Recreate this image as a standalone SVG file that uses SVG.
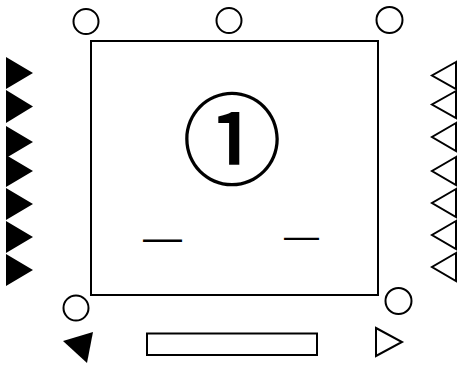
<svg xmlns="http://www.w3.org/2000/svg" width="459" height="368" viewBox="0 0 459 368">
<style>
.o{fill:#fff;stroke:#000;stroke-width:2}
.f{fill:#000;stroke:none}
.c{fill:#fff;stroke:#000;stroke-width:2}
.t{font-family:"Noto Sans CJK JP",sans-serif;font-weight:500;fill:#000}
.d{font-family:"Liberation Sans",Arial,sans-serif;fill:#000}
</style>
<rect width="459" height="368" fill="#fff"/>
<g id="box">
<rect class="o" x="91" y="41" width="287" height="254"/>
<text class="t" x="232" y="177" font-size="100" text-anchor="middle">①</text>
<text class="d" x="143" y="250.5" font-size="39">—</text>
<text class="d" x="284" y="248.2" font-size="35">—</text>
</g>
<g id="circles">
<circle class="c" cx="86" cy="21.5" r="12.5"/>
<circle class="c" cx="229" cy="20.5" r="12.5"/>
<circle class="c" cx="389.5" cy="20" r="13"/>
<circle class="c" cx="76" cy="308" r="12.5"/>
<circle class="c" cx="398.5" cy="301" r="13"/>
</g>
<g id="left-pins">
<polygon class="f" points="6,57 33,73 6,89"/>
<polygon class="f" points="6,90 33,106.5 6,123"/>
<polygon class="f" points="6,126 33,142 6,158"/>
<polygon class="f" points="6,155 33,171 6,187"/>
<polygon class="f" points="6,188 33,204 6,220"/>
<polygon class="f" points="6,221 33,237 6,253"/>
<polygon class="f" points="6,254 33,270 6,286"/>
</g>
<g id="right-pins">
<polygon class="o" points="456,62 432,75.5 456,89"/>
<polygon class="o" points="456,91 432,104.5 456,118"/>
<polygon class="o" points="456,123 432,137 456,151"/>
<polygon class="o" points="456,157 432,171 456,185"/>
<polygon class="o" points="456,189 432,203 456,217"/>
<polygon class="o" points="456,221 432,235 456,249"/>
<polygon class="o" points="456,253 432,267 456,281"/>
</g>
<g id="bottom">
<polygon class="f" points="63,341 93,332 87,363"/>
<rect class="o" x="147" y="333.5" width="170" height="21.5"/>
<polygon class="o" points="376,328 402,342 376,356"/>
</g>
</svg>
